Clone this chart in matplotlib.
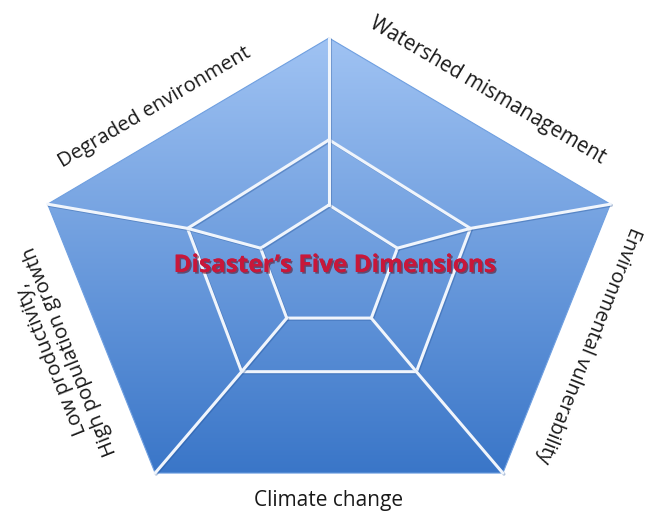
import numpy as np
import matplotlib
matplotlib.use("Agg")
import matplotlib.pyplot as plt
from matplotlib.patches import Polygon
from matplotlib import patheffects, font_manager

# Dimension labels, one per pentagon edge (clockwise from the upper right edge)
edge_labels = [
    "Watershed mismanagement",
    "Environmental vulnerability",
    "Climate change",
    "Low productivity,\nHigh population growth",
    "Degraded environment",
]
title_text = "Disaster\u2019s Five Dimensions"

# Relative size of the three concentric web rings (outer = 1)
ring_levels = [1.0, 0.533, 0.26]

# ---- layout (pixel-like data space) ----
W, H = 652, 517
R_OUTER = 240.5
ring_cy = [278.5, 268.0, 267.5]      # vertical centre of each ring
ring_sx = [1.23, 1.16, 1.15]         # horizontal stretch of each ring
CX = 329.0

# label placement: distance out from the edge, shift along it, font size
label_offset = [35, 32, 27, 44, 29]
label_shift = [0, -6, 0, 0, -22]
label_size = [14.8, 14.2, 15, 14.6, 14.6]

installed = {f.name for f in font_manager.fontManager.ttflist}
label_font = "Open Sans" if "Open Sans" in installed else "DejaVu Sans"

fig = plt.figure(figsize=(W / 100, H / 100), dpi=100)
ax = fig.add_axes([0, 0, 1, 1])
ax.set_xlim(0, W)
ax.set_ylim(H, 0)
ax.axis("off")

angles = np.deg2rad(90 - 72 * np.arange(5))


def ring_vertices(i):
    r = R_OUTER * ring_levels[i]
    x = CX + ring_sx[i] * r * np.cos(angles)
    y = ring_cy[i] - r * np.sin(angles)
    return np.column_stack([x, y])


rings = [ring_vertices(i) for i in range(len(ring_levels))]
outer = rings[0]

# Vertical blue gradient clipped to the outer pentagon
top_c = np.array([160, 195, 243]) / 255
bot_c = np.array([58, 118, 200]) / 255
t = np.linspace(0, 1, 256)[:, None, None]
grad = top_c * (1 - t) + bot_c * t
ymin, ymax = outer[:, 1].min(), outer[:, 1].max()
xmin, xmax = outer[:, 0].min(), outer[:, 0].max()
im = ax.imshow(grad, extent=(xmin, xmax, ymax, ymin), origin="upper",
               aspect="auto", interpolation="bilinear", zorder=1)
clip = Polygon(outer, closed=True, transform=ax.transData)
im.set_clip_path(clip)
ax.add_patch(Polygon(outer, closed=True, fill=False, edgecolor="#6f9fe0",
                     linewidth=0.8, zorder=2))

line_kw = dict(color="#f0f5fc", linewidth=2.2, solid_capstyle="round",
               solid_joinstyle="round", zorder=3,
               path_effects=[patheffects.SimpleLineShadow(offset=(0.8, -0.8),
                                                          shadow_color="#1f4f95",
                                                          alpha=0.35),
                             patheffects.Normal()])

# Inner rings
for pts in rings[1:]:
    closed = np.vstack([pts, pts[:1]])
    ax.plot(closed[:, 0], closed[:, 1], **line_kw)

# Spokes joining the ring vertices from the innermost ring outwards
for k in range(5):
    sx = [rings[i][k, 0] for i in range(len(rings) - 1, -1, -1)]
    sy = [rings[i][k, 1] for i in range(len(rings) - 1, -1, -1)]
    ax.plot(sx, sy, **line_kw)

# Edge labels, parallel to each edge with their tops facing outwards
centre = np.array([CX, ring_cy[0]])
for k, text in enumerate(edge_labels):
    p0, p1 = outer[k], outer[(k + 1) % 5]
    mid = (p0 + p1) / 2
    d = (p1 - p0) / np.linalg.norm(p1 - p0)
    normal = np.array([d[1], -d[0]])
    if np.dot(normal, mid - centre) < 0:
        normal = -normal
    # rotation in screen degrees (y axis points down in data space)
    ang = np.degrees(np.arctan2(-normal[1], normal[0])) - 90
    ang = (ang + 180) % 360 - 180
    if abs(ang) > 150:
        ang = 0.0
    pos = mid + normal * label_offset[k] + d * label_shift[k]
    ax.text(pos[0], pos[1], text, rotation=ang, rotation_mode="anchor",
            ha="center", va="center", multialignment="center",
            fontsize=label_size[k], family=label_font, color="#1a1a1a",
            linespacing=1.0, zorder=5)

ax.text(334, 266, title_text, ha="center", va="center", fontsize=17.5,
        fontweight="bold", family=label_font, color="#c8173a", zorder=6,
        path_effects=[patheffects.withSimplePatchShadow(offset=(1.2, -1.2),
                                                        shadow_rgbFace="#5a0a18",
                                                        alpha=0.55),
                      patheffects.Normal()])

fig.savefig("out.png", dpi=100)
